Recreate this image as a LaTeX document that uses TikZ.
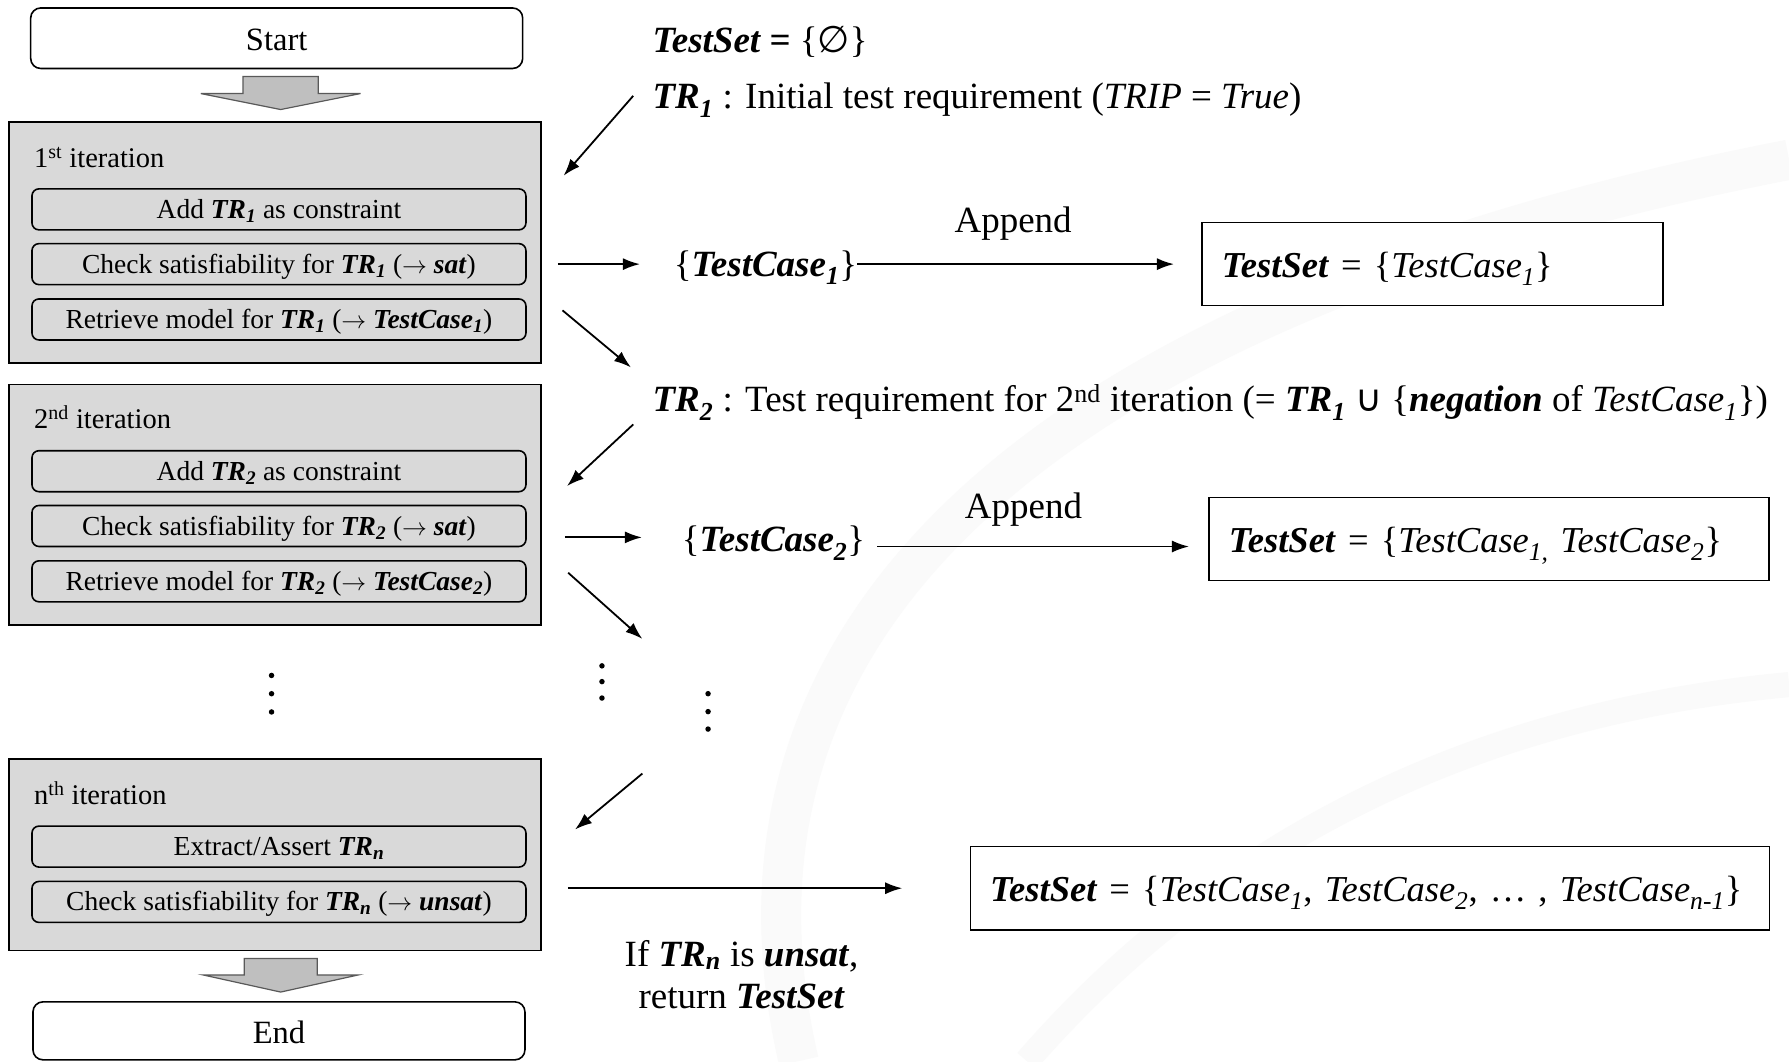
\documentclass[tikz,border=0pt]{standalone}
\usepackage{fontspec}
\setmainfont{Liberation Serif}
\newfontfamily\symfont{DejaVu Sans}
\usetikzlibrary{arrows.meta}
\newcommand\bi[1]{\textbf{\textit{#1}}}
\newcommand\trq[1]{\bi{TR}\textsubscript{\bi{#1}}}
\newcommand\tci[1]{\textit{TestCase}\textsubscript{\textit{#1}}}
\newcommand\tcb[1]{\bi{TestCase}\textsubscript{\bi{#1}}}
\newcommand\rarr{$\rightarrow$}
\definecolor{boxgray}{HTML}{D9D9D9}
\definecolor{arrgray}{HTML}{BFBFBF}
\definecolor{arredge}{HTML}{595959}
\begin{document}
\begin{tikzpicture}[x=1.141pt,y=-1.141pt,
  every node/.style={inner sep=0pt, outer sep=0pt},
  outerbox/.style={draw=black, line width=1.8pt, fill=boxgray, minimum width=531.7pt},
  stepbox/.style={draw=black, line width=1.6pt, rounded corners=7pt, fill=boxgray,
     minimum width=494pt, minimum height=41pt, text height=23.6pt, text depth=5.5pt,
     font=\fontsize{27.5}{32}\selectfont},
  endbox/.style={draw=black, line width=1.6pt, rounded corners=10pt, fill=white,
     minimum width=492pt, text height=25pt, text depth=0pt, font=\fontsize{32.5}{38}\selectfont},
  iterlbl/.style={anchor=west, font=\fontsize{28.5}{34}\selectfont},
  txt/.style={font=\fontsize{37}{44}\selectfont},
  setbox/.style={draw=black, line width=1.4pt, fill=white, minimum height=83.3pt,
     inner xsep=20pt, align=left, text height=34pt, text depth=7.3pt,
     font=\fontsize{36.5}{42}\selectfont},
  conn/.style={line width=1.8pt, -{Latex[length=17pt,width=12pt]}},
  blockarr/.style={fill=arrgray, draw=arredge, line width=1.2pt, line join=miter},
  dotm/.style={fill=black, draw=none}
]
\useasboundingbox (0,0) rectangle (1568,930);
\fill[white] (0,0) rectangle (1568,930);
% faint background swoosh
\draw[line width=40pt, color=black!2] (700,930) .. controls (600,500) and (1000,250) .. (1568,140);
\draw[line width=25pt, color=black!2] (900,930) .. controls (1100,700) and (1350,620) .. (1568,600);

% ---- left column ----
\node[endbox, minimum height=60.5pt] (start) at (242.5,33.5) {Start};
\coordinate (ba1) at (246,67);
\draw[blockarr] (ba1) ++(-33,0) -- ++(66,0) -- ++(0,15) -- ++(37,0) -- ++(-70,14) -- ++(-70,-14) -- ++(37,0) -- cycle;

\node[outerbox, minimum height=240.8pt] (box1) at (241,212.5) {};
\node[iterlbl] (it1) at (30,138) {1\textsuperscript{st} iteration};
\node[stepbox] (add1) at (244.5,183.5) {Add \trq{1} as constraint};
\node[stepbox] (chk1) at (244.5,231.5) {Check satisfiability for \trq{1} (\rarr\ \bi{sat})};
\node[stepbox] (ret1) at (244.5,280) {Retrieve model for \trq{1} (\rarr\ \tcb{1})};

\node[outerbox, minimum height=240.8pt] (box2) at (241,442.5) {};
\node[iterlbl] (it2) at (30,366) {2\textsuperscript{nd} iteration};
\node[stepbox] (add2) at (244.5,413) {Add \trq{2} as constraint};
\node[stepbox] (chk2) at (244.5,461) {Check satisfiability for \trq{2} (\rarr\ \bi{sat})};
\node[stepbox] (ret2) at (244.5,509.5) {Retrieve model for \trq{2} (\rarr\ \tcb{2})};

\foreach \yy in {592,608,624} \fill[dotm] (238,\yy) circle (2.4);

\node[outerbox, minimum height=191.7pt] (boxn) at (241,749) {};
\node[iterlbl] (itn) at (30,695) {n\textsuperscript{th} iteration};
\node[stepbox] (extn) at (244.5,742) {Extract/Assert \trq{n}};
\node[stepbox] (chkn) at (244.5,790.5) {Check satisfiability for \trq{n} (\rarr\ \bi{unsat})};

\coordinate (ba2) at (246,840);
\draw[blockarr] (ba2) ++(-32,0) -- ++(64,0) -- ++(0,14.5) -- ++(36,0) -- ++(-68,15) -- ++(-68,-15) -- ++(36,0) -- cycle;
\node[endbox, minimum height=58pt] (end) at (244.5,903.5) {End};

% ---- right side ----
\node[txt, anchor=west] (ts0) at (572,37) {\bi{TestSet =} \{{\symfont ∅}\}};
\node[txt, anchor=west] (tr1) at (572,88) {\trq{1} : Initial test requirement (\textit{TRIP} = \textit{True})};

\coordinate (a1s) at (555,84);
\coordinate (a1e) at (494,154);
\draw[conn] (a1s) -- (a1e);

\node[txt] (tc1) at (671,234.5) {\{\tcb{1}\}};
\node[setbox, text width=421pt] (ts1) at (1255.5,231.5) {\bi{TestSet} = \{\tci{1}\}};
\draw[conn, shorten <=17pt, shorten >=34pt] (box1.east |- ts1.west) -- (tc1.west |- ts1.west);
\draw[conn, shorten >=28pt] (tc1.east |- ts1.west) -- (ts1.west);
\node[txt] (app1) at (888,196) {Append};

\coordinate (d1s) at (493,272);
\coordinate (d1e) at (553,322);
\draw[conn] (d1s) -- (d1e);

\node[txt, anchor=west] (tr2) at (572,353) {\trq{2} : Test requirement for 2\textsuperscript{nd} iteration (= \trq{1} {\symfont ∪} \{\bi{negation} of \tci{1}\})};

\coordinate (a2s) at (555,372);
\coordinate (a2e) at (497,426);
\draw[conn] (a2s) -- (a2e);

\node[txt] (tc2) at (678,476) {\{\tcb{2}\}};
\draw[conn, shorten <=24pt, shorten >=40pt] (box2.east |- 0,471) -- (tc2.west |- 0,471);
\node[setbox, text width=520pt] (ts2) at (1305,472.5) {\bi{TestSet} = \{\tci{1,} \tci{2}\}};
\draw[conn, shorten <=12pt, shorten >=20pt] (tc2.east |- 0,479) -- (ts2.west |- 0,479);
\node[txt] (app2) at (897,447) {Append};

\coordinate (d2s) at (498,502);
\coordinate (d2e) at (563,560);
\draw[conn] (d2s) -- (d2e);

\foreach \yy in {583.6,597.4,611.8} \fill[dotm] (527.6,\yy) circle (2.4);
\foreach \yy in {608,623.7,639} \fill[dotm] (620.6,\yy) circle (2.4);

\coordinate (a3s) at (563,678);
\coordinate (a3e) at (504,727);
\draw[conn] (a3s) -- (a3e);

\node[setbox, text width=759pt] (tsn) at (1200.5,778.5) {\bi{TestSet} = \{\tci{1}, \tci{2}, \dots\ , \tci{n-1}\}};
\draw[conn, shorten <=27pt, shorten >=68pt] (boxn.east |- tsn.west) -- (tsn.west);

\node[txt, align=center] (ret) at (650,854) {If \trq{n} is \bi{unsat},\\[-2pt] return \bi{TestSet}};
\end{tikzpicture}
\end{document}
